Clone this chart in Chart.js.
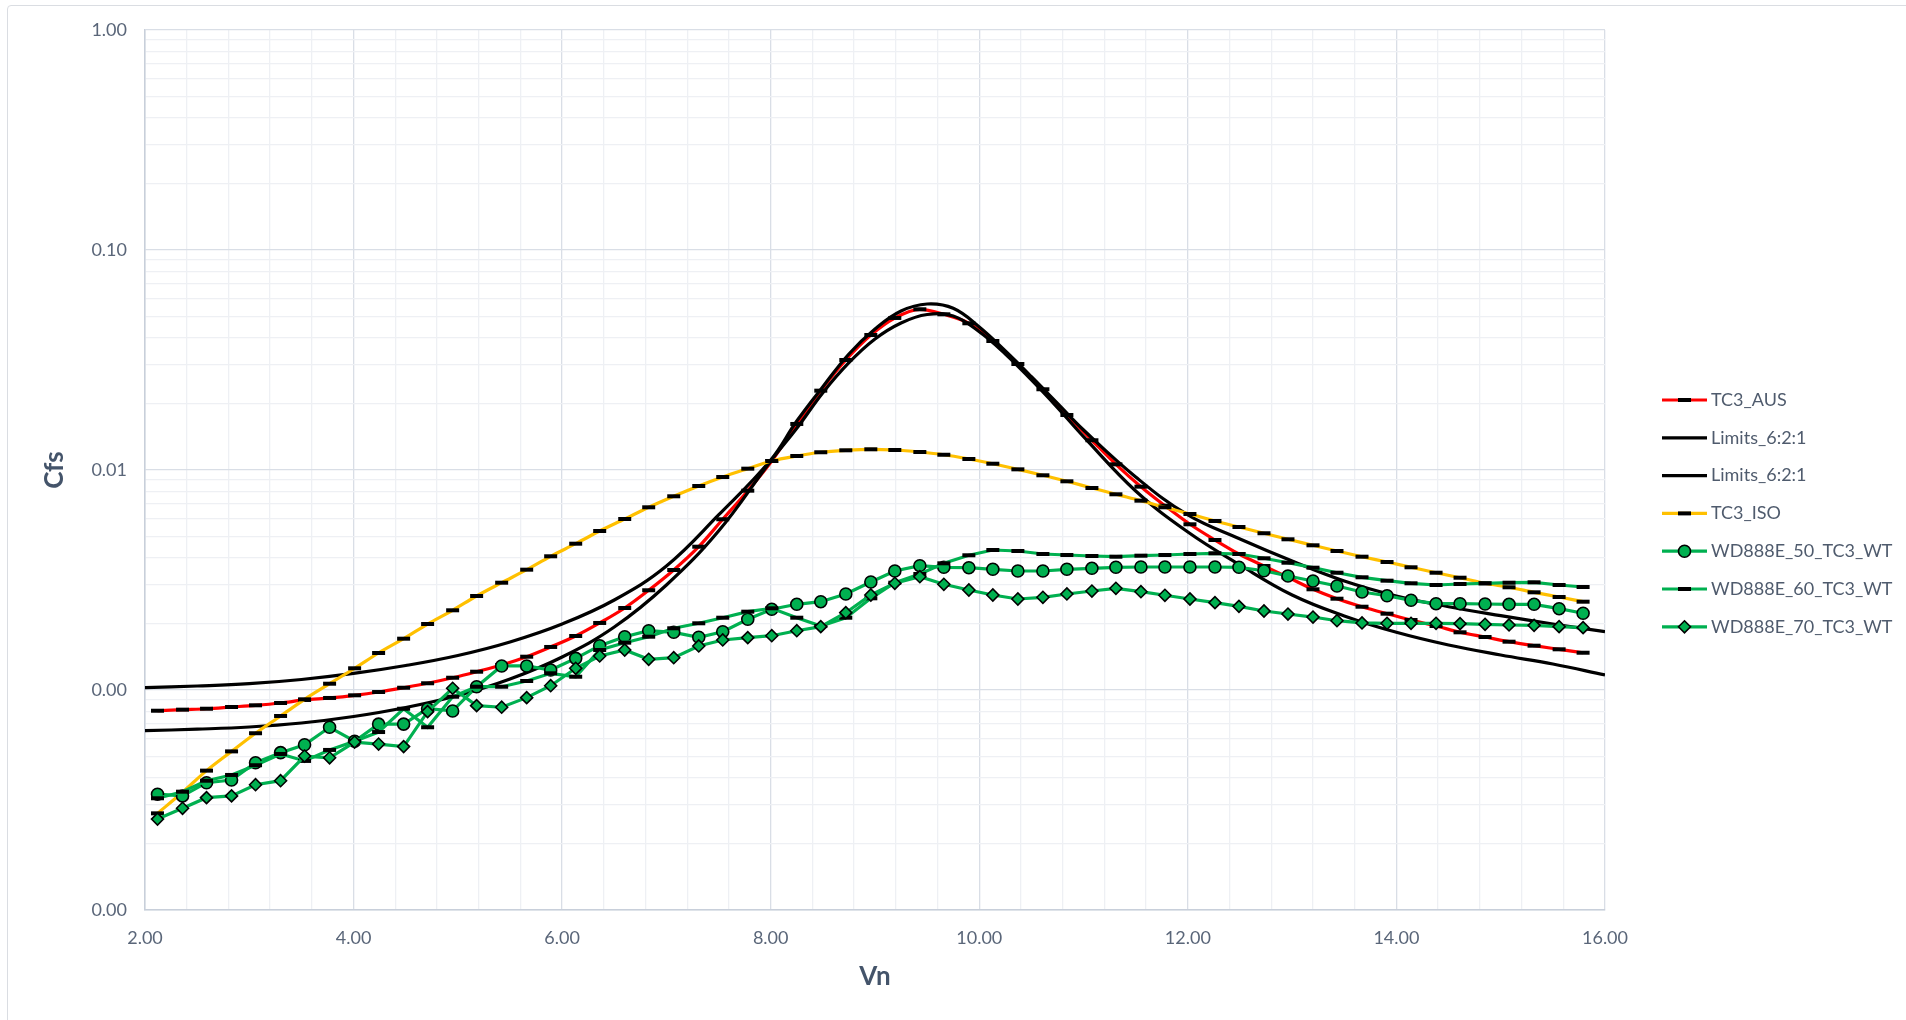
<!DOCTYPE html>
<html>
<head>
<meta charset="utf-8">
<title>Cfs vs Vn</title>
<script src="https://cdn.jsdelivr.net/npm/chart.js@4/dist/chart.umd.min.js"></script>
<style>
  html, body { margin: 0; padding: 0; background: #fff; overflow: hidden; }
  #wrap { position: relative; width: 1906px; height: 1020px; }
  #frame { position: absolute; left: 7px; top: 5px; width: 1920px; height: 1040px; border: 1px solid #DADDE2; border-radius: 4px; }
  canvas { position: absolute; left: 0; top: 0; }
</style>
</head>
<body>
<div id="wrap">
  <div id="frame"></div>
  <canvas id="chart" width="1906" height="1020"></canvas>
</div>
<script>
// Vn sample points of the measured / code curves
const vn = [2.12, 2.36, 2.59, 2.83, 3.06, 3.30, 3.53, 3.77, 4.01, 4.24, 4.48, 4.71, 4.95, 5.18, 5.42,
  5.66, 5.89, 6.13, 6.36, 6.60, 6.83, 7.07, 7.31, 7.54, 7.78, 8.01, 8.25, 8.48, 8.72, 8.96, 9.19,
  9.43, 9.66, 9.90, 10.13, 10.37, 10.61, 10.84, 11.08, 11.31, 11.55, 11.78, 12.02, 12.26, 12.49,
  12.73, 12.96, 13.20, 13.43, 13.67, 13.91, 14.14, 14.38, 14.61, 14.85, 15.08, 15.32, 15.56, 15.79];

const tc3Aus = [0.000805, 0.000814, 0.000822, 0.000837, 0.000852, 0.000873, 0.000901, 0.000920, 0.000946, 0.000979,
  0.001024, 0.001073, 0.001137, 0.001211, 0.001299, 0.001417, 0.001569, 0.001760, 0.002017, 0.002359,
  0.002840, 0.003511, 0.004481, 0.005970, 0.008054, 0.01099, 0.01619, 0.02294, 0.03162, 0.04108,
  0.04910, 0.05376, 0.05101, 0.04644, 0.03858, 0.03033, 0.02328, 0.01778, 0.01365, 0.01061,
  0.008399, 0.006883, 0.005665, 0.004806, 0.004151, 0.003661, 0.003253, 0.002869, 0.002600, 0.002391,
  0.002223, 0.002081, 0.001954, 0.001829, 0.001741, 0.001658, 0.001590, 0.001531, 0.001477];

const tc3Iso = [0.000275, 0.000343, 0.000430, 0.000526, 0.000636, 0.000762, 0.000907, 0.001068, 0.001255, 0.001473,
  0.001711, 0.001995, 0.002303, 0.002675, 0.003074, 0.003523, 0.004053, 0.004624, 0.005281, 0.005988,
  0.006768, 0.007595, 0.008459, 0.009294, 0.01014, 0.01099, 0.01158, 0.01204, 0.01229, 0.01242,
  0.01233, 0.01207, 0.01173, 0.01122, 0.01068, 0.01007, 0.009461, 0.008884, 0.008285, 0.007755,
  0.007254, 0.006768, 0.006310, 0.005864, 0.005508, 0.005158, 0.004842, 0.004547, 0.004284, 0.004036,
  0.003818, 0.003612, 0.003413, 0.003239, 0.003055, 0.002930, 0.002780, 0.002647, 0.002520];

const wd50 = [0.000336, 0.000330, 0.000379, 0.000390, 0.000467, 0.000519, 0.000564, 0.000677, 0.000585, 0.000700,
  0.000700, 0.000822, 0.000803, 0.001035, 0.001286, 0.001286, 0.001233, 0.001393, 0.001590, 0.001747,
  0.001860, 0.001829, 0.001736, 0.001841, 0.002096, 0.002327, 0.002452, 0.002520, 0.002732, 0.003097,
  0.003475, 0.003673, 0.003612, 0.003597, 0.003537, 0.003475, 0.003475, 0.003537, 0.003574, 0.003612,
  0.003624, 0.003624, 0.003624, 0.003624, 0.003612, 0.003485, 0.003297, 0.003130, 0.002970, 0.002789,
  0.002683, 0.002557, 0.002468, 0.002468, 0.002460, 0.002452, 0.002452, 0.002342, 0.002232];

const wd60 = [0.000322, 0.000345, 0.000387, 0.000411, 0.000455, 0.000512, 0.000476, 0.000534, 0.000585, 0.000644,
  0.000822, 0.000677, 0.000932, 0.001035, 0.001035, 0.001099, 0.001191, 0.001149, 0.001520, 0.001641,
  0.001747, 0.001908, 0.002010, 0.002131, 0.002270, 0.002352, 0.002131, 0.001954, 0.002131, 0.002611,
  0.003074, 0.003368, 0.003766, 0.004096, 0.004329, 0.004284, 0.004151, 0.004108, 0.004065, 0.004036,
  0.004079, 0.004108, 0.004151, 0.004182, 0.004151, 0.003969, 0.003790, 0.003597, 0.003413, 0.003253,
  0.003140, 0.003055, 0.003001, 0.003033, 0.003055, 0.003074, 0.003087, 0.003001, 0.002939];

const wd70 = [0.000259, 0.000290, 0.000324, 0.000330, 0.000371, 0.000387, 0.000501, 0.000492, 0.000580, 0.000568,
  0.000553, 0.000797, 0.001018, 0.000849, 0.000835, 0.000923, 0.001046, 0.001255, 0.001428, 0.001520,
  0.001379, 0.001402, 0.001585, 0.001688, 0.001729, 0.001765, 0.001860, 0.001940, 0.002246, 0.002703,
  0.003055, 0.003273, 0.003023, 0.002848, 0.002703, 0.002592, 0.002639, 0.002732, 0.002818, 0.002899,
  0.002798, 0.002695, 0.002592, 0.002494, 0.002401, 0.002286, 0.002215, 0.002146, 0.002065, 0.002017,
  0.002010, 0.002010, 0.002010, 0.002002, 0.001989, 0.001975, 0.001968, 0.001940, 0.001920];

// the two limit curves (upper / lower envelope)
const limVn = [2.0, 2.5, 3.0, 3.5, 4.0, 4.5, 5.0, 5.5, 6.0, 6.5, 7.0, 7.5, 8.0, 8.25, 8.5, 8.75, 9.0, 9.25,
  9.5, 9.75, 10.0, 10.25, 10.5, 10.75, 11.0, 11.5, 12.0, 12.5, 13.0, 13.5, 14.0, 14.5, 15.0, 15.5, 16.0];

const limUpper = [0.001026, 0.001043, 0.001068, 0.001116, 0.001189, 0.001292, 0.001435, 0.001653, 0.001995,
  0.002565, 0.003661, 0.006245, 0.01110, 0.01670, 0.02391, 0.03368, 0.04374, 0.05280, 0.05682, 0.05433,
  0.04467, 0.03475, 0.02656, 0.02010, 0.01520, 0.009294, 0.006245, 0.004857, 0.003858, 0.003130,
  0.002675, 0.002391, 0.002177, 0.001995, 0.001841];

const limLower = [0.0006531, 0.0006636, 0.0006788, 0.0007079, 0.0007576, 0.0008326, 0.0009441, 0.001122, 0.001413,
  0.001933, 0.003001, 0.005281, 0.01099, 0.01547, 0.02246, 0.03074, 0.03940, 0.04659, 0.05090, 0.05012,
  0.04253, 0.03368, 0.02565, 0.01920, 0.01417, 0.008026, 0.005226, 0.003700, 0.002703, 0.002170,
  0.001829, 0.001601, 0.001442, 0.001313, 0.001170];

const xMajorTicks = [2, 4, 6, 8, 10, 12, 14, 16];
const yMajorTicks = [0.0001, 0.001, 0.01, 0.1, 1];

const pts = (xs, ys) => xs.map((x, i) => ({ x: x, y: ys[i] }));

const isMajorX = v => xMajorTicks.some(m => Math.abs(m - v) < 1e-6);
const isMajorY = v => yMajorTicks.some(m => Math.abs(m - v) / m < 1e-6);

const dashPoint = {
  pointStyle: 'line', pointRadius: 6.5, pointBorderWidth: 4,
  pointBorderColor: '#000', pointBackgroundColor: '#000'
};

const datasets = [
  Object.assign({ label: 'TC3_AUS', data: pts(vn, tc3Aus), borderColor: '#FF0000', borderWidth: 3.2,
    cubicInterpolationMode: 'monotone', order: 7 }, dashPoint),
  { label: 'Limits_6:2:1', data: pts(limVn, limUpper), borderColor: '#000000', borderWidth: 3.2,
    pointRadius: 0, tension: 0.4, order: 6 },
  { label: 'Limits_6:2:1', data: pts(limVn, limLower), borderColor: '#000000', borderWidth: 3.2,
    pointRadius: 0, tension: 0.4, order: 5 },
  Object.assign({ label: 'TC3_ISO', data: pts(vn, tc3Iso), borderColor: '#FFC000', borderWidth: 3.2,
    cubicInterpolationMode: 'monotone', order: 4 }, dashPoint),
  { label: 'WD888E_50_TC3_WT', data: pts(vn, wd50), borderColor: '#00B050', borderWidth: 3.2, tension: 0,
    pointStyle: 'circle', pointRadius: 6, pointBorderWidth: 1.6,
    pointBackgroundColor: '#00B050', pointBorderColor: '#000', order: 3 },
  Object.assign({ label: 'WD888E_60_TC3_WT', data: pts(vn, wd60), borderColor: '#00B050', borderWidth: 3.2,
    tension: 0, order: 2 }, dashPoint),
  { label: 'WD888E_70_TC3_WT', data: pts(vn, wd70), borderColor: '#00B050', borderWidth: 3.2, tension: 0,
    pointStyle: 'rectRot', pointRadius: 6, pointBorderWidth: 1.6,
    pointBackgroundColor: '#00B050', pointBorderColor: '#000', order: 1 }
];

// legend at the right: line sample + marker + name
function drawMarker(ctx, style, r, x, y) {
  ctx.beginPath();
  if (style === 'circle') {
    ctx.arc(x, y, r, 0, Math.PI * 2);
    ctx.fill(); ctx.stroke();
  } else if (style === 'rectRot') {
    ctx.moveTo(x - r, y); ctx.lineTo(x, y - r); ctx.lineTo(x + r, y); ctx.lineTo(x, y + r);
    ctx.closePath(); ctx.fill(); ctx.stroke();
  } else if (style === 'line') {
    ctx.moveTo(x - r, y); ctx.lineTo(x + r, y); ctx.stroke();
  }
}

const sideLegend = {
  id: 'sideLegend',
  afterDraw(chart) {
    const ctx = chart.ctx;
    chart.data.datasets.forEach((ds, i) => {
      const y = 400 + i * 37.8;
      ctx.save();
      ctx.strokeStyle = ds.borderColor;
      ctx.lineWidth = ds.borderWidth;
      ctx.beginPath(); ctx.moveTo(1662, y); ctx.lineTo(1707, y); ctx.stroke();
      if (ds.pointRadius > 0) {
        ctx.fillStyle = ds.pointBackgroundColor;
        ctx.strokeStyle = ds.pointBorderColor;
        ctx.lineWidth = ds.pointBorderWidth;
        drawMarker(ctx, ds.pointStyle, ds.pointRadius, 1684.5, y);
      }
      ctx.fillStyle = '#4F5B6D';
      ctx.font = '18px Lato';
      ctx.textAlign = 'left';
      ctx.textBaseline = 'middle';
      ctx.fillText(ds.label, 1711, y);
      ctx.restore();
    });
  }
};

Chart.defaults.font.family = 'Lato';

new Chart(document.getElementById('chart'), {
  type: 'line',
  data: { datasets: datasets },
  options: {
    responsive: false,
    animation: false,
    layout: { padding: { left: 0, top: 30, right: 301, bottom: 0 } },
    plugins: { legend: { display: false }, tooltip: { enabled: false } },
    scales: {
      x: {
        type: 'linear', min: 2, max: 16,
        afterBuildTicks: s => {
          const t = [];
          for (let i = 0; i <= 35; i++) t.push({ value: Math.round((2 + i * 0.4) * 10) / 10 });
          s.ticks = t;
        },
        afterFit: s => { s.height = 110; },
        ticks: {
          autoSkip: false, maxRotation: 0, padding: 17, color: '#5A6679', font: { size: 18 },
          callback: v => isMajorX(v) ? v.toFixed(2) : ''
        },
        grid: {
          drawTicks: false,
          color: c => isMajorX(c.tick.value) ? '#D9DEE6' : '#EEF0F4',
          lineWidth: 1.3
        },
        border: { color: '#C8CFDA', width: 1.5 },
        title: { display: true, text: 'Vn', color: '#44546A', font: { size: 26, weight: 'bold' },
          padding: { top: 0, bottom: 28 } }
      },
      y: {
        type: 'logarithmic', min: 0.0001, max: 1,
        afterBuildTicks: s => {
          const t = [];
          for (let e = -4; e <= 0; e++) {
            for (let m = 1; m <= 9; m++) {
              const v = Number((m * Math.pow(10, e)).toPrecision(6));
              if (v <= 1) t.push({ value: v });
            }
          }
          s.ticks = t;
        },
        afterFit: s => { s.width = 145; },
        ticks: {
          autoSkip: false, padding: 18, color: '#5A6679', font: { size: 18 },
          callback: v => isMajorY(v) ? Number(v).toFixed(2) : ''
        },
        grid: {
          drawTicks: false,
          color: c => isMajorY(c.tick.value) ? '#D9DEE6' : '#EEF0F4',
          lineWidth: 1.3
        },
        border: { color: '#C8CFDA', width: 1.5 },
        title: { display: true, text: 'Cfs', color: '#44546A', font: { size: 26, weight: 'bold' },
          padding: { top: 39, bottom: 0 } }
      }
    }
  },
  plugins: [sideLegend]
});
</script>
</body>
</html>
